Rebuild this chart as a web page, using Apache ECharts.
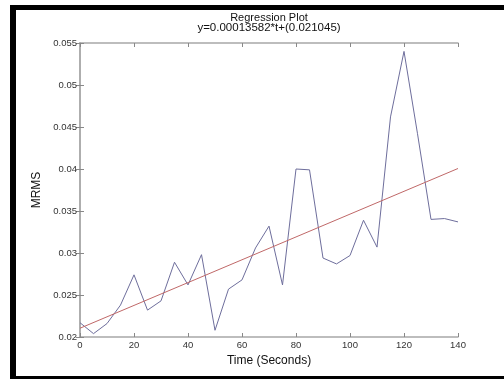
<!DOCTYPE html>
<html>
<head>
<meta charset="utf-8">
<script src="https://cdn.jsdelivr.net/npm/echarts@6/dist/echarts.min.js"></script>
<style>
html,body{margin:0;padding:0;background:#fff;}
#chart{width:504px;height:379px;}
</style>
</head>
<body>
<div id="chart"></div>
<script>
// Data
var times = [0,5,10,15,20,25,30,35,40,45,50,55,60,65,70,75,80,85,90,95,100,105,110,115,120,125,130,135,140];
var mrms = [0.0217,0.0204,0.0216,0.0238,0.0274,0.0232,0.0243,0.0289,0.0262,0.0298,0.0208,0.0257,0.0268,0.0306,0.0332,0.0262,0.0400,0.0399,0.0294,0.0287,0.0297,0.0339,0.0307,0.0462,0.0540,0.0442,0.0340,0.0341,0.0337];
var fitTimes = [0, 140];
var fitValues = [0.021045, 0.040060];
var titleText = 'Regression Plot';
var subtitleText = 'y=0.00013582*t+(0.021045)';
var xName = 'Time (Seconds)';
var yName = 'MRMS';
var yTicks = ['0.02','0.025','0.03','0.035','0.04','0.045','0.05','0.055'];

var chart = echarts.init(document.getElementById('chart'), null, {renderer:'canvas'});
var font = 'Liberation Sans, Arial, sans-serif';
var axisLineStyle = {color:'#a8a8a8', width:1.5};
var labelStyle = {color:'#333', fontSize:9.5, fontFamily:font};

function pairs(xs, ys){ return xs.map(function(x,i){return [x, ys[i]];}); }

chart.setOption({
  animation:false,
  backgroundColor:'#fff',
  title:[
    {text:titleText, left:269, top:12, padding:0, textAlign:'center',
     textStyle:{fontSize:11, fontWeight:'normal', color:'#111', fontFamily:font}},
    {text:subtitleText, left:269, top:22, padding:0, textAlign:'center',
     textStyle:{fontSize:11.5, fontWeight:'normal', color:'#111', fontFamily:font}}
  ],
  grid:{left:80, top:43, width:378, height:294, containLabel:false},
  xAxis:[
    {type:'value', min:0, max:140, interval:20, position:'bottom',
     name:xName, nameLocation:'middle', nameGap:13,
     nameTextStyle:{fontSize:12, color:'#111', fontFamily:font},
     axisLine:{show:true, lineStyle:axisLineStyle},
     axisTick:{show:true, inside:true, length:4, lineStyle:{color:'#888'}},
     axisLabel:Object.assign({margin:3}, labelStyle),
     splitLine:{show:false}},
    {type:'value', min:0, max:140, interval:20, position:'top',
     axisLine:{show:true, lineStyle:axisLineStyle},
     axisTick:{show:true, inside:true, length:4, lineStyle:{color:'#888'}},
     axisLabel:{show:false}, splitLine:{show:false}}
  ],
  yAxis:[
    {type:'value', min:0.02, max:0.055, interval:0.005, position:'left',
     name:yName, nameLocation:'middle', nameGap:22, nameRotate:90,
     nameTextStyle:{fontSize:12, color:'#111', fontFamily:font},
     axisLine:{show:true, lineStyle:axisLineStyle},
     axisTick:{show:true, inside:true, length:4, lineStyle:{color:'#888'}},
     axisLabel:Object.assign({margin:3, formatter:function(v){
        var idx = Math.round((v-0.02)/0.005); return yTicks[idx] || '';}}, labelStyle),
     splitLine:{show:false}},
    {type:'value', min:0.02, max:0.055, interval:0.005, position:'right',
     axisLine:{show:true, lineStyle:axisLineStyle},
     axisTick:{show:true, inside:true, length:4, lineStyle:{color:'#888'}},
     axisLabel:{show:false}, splitLine:{show:false}}
  ],
  series:[
    {type:'line', data:pairs(times, mrms), xAxisIndex:0, yAxisIndex:0,
     symbol:'none', lineStyle:{color:'#6e6e9c', width:1}},
    {type:'line', data:pairs(fitTimes, fitValues), xAxisIndex:0, yAxisIndex:0,
     symbol:'none', lineStyle:{color:'#c06868', width:1}}
  ],
  graphic:[
    {type:'rect', shape:{x:10, y:5, width:494, height:5}, style:{fill:'#000'}, silent:true},
    {type:'rect', shape:{x:10, y:5, width:6, height:374}, style:{fill:'#000'}, silent:true},
    {type:'rect', shape:{x:10, y:376, width:494, height:3}, style:{fill:'#000'}, silent:true}
  ]
});
</script>
</body>
</html>
